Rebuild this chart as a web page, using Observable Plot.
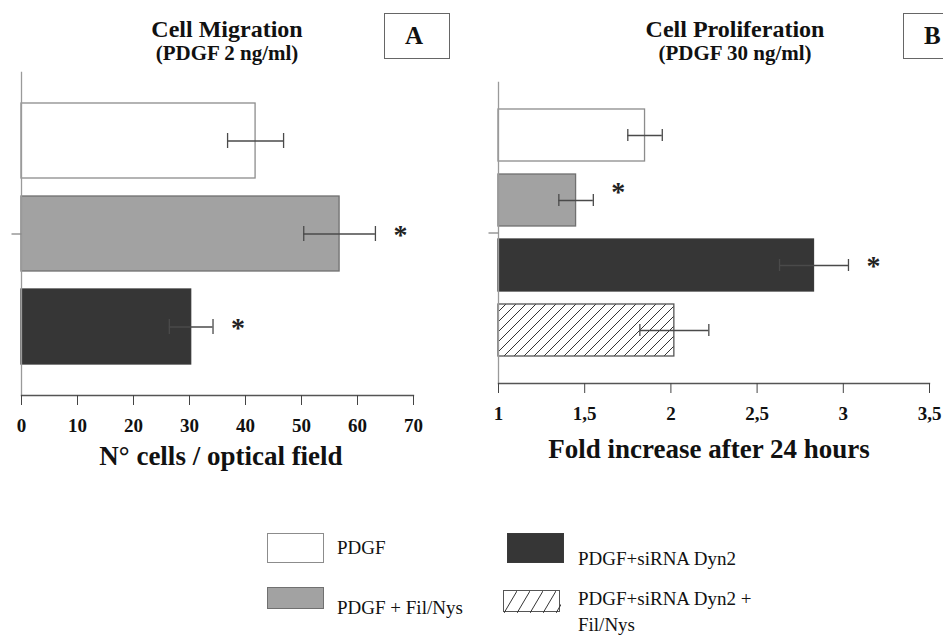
<!DOCTYPE html>
<html><head><meta charset="utf-8">
<script src="https://cdn.jsdelivr.net/npm/d3@7"></script>
<script src="https://cdn.jsdelivr.net/npm/@observablehq/plot@0.6"></script>
<style>
body{margin:0;background:#fff;}
#wrap{position:relative;width:943px;height:640px;overflow:hidden;font-family:"Liberation Serif","Times New Roman",serif;color:#111;background:#fff;}
.abs{position:absolute;white-space:nowrap;line-height:1;}
.b{font-weight:bold;}
.ctr{text-align:center;}
.box{position:absolute;border:1.5px solid #666;box-sizing:border-box;display:flex;align-items:center;justify-content:flex-start;padding-left:20px;font-weight:bold;font-size:25px;background:#fff;}
</style></head><body><div id="wrap"></div>
<script>
// ---------- data ----------
const categoriesA = ["PDGF", "PDGF + Fil/Nys", "PDGF+siRNA Dyn2"];
const migrationMean = [41.8, 56.8, 30.3];
const migrationErr = [5.0, 6.4, 3.9];
const migrationSig = [false, true, true];
const ticksA = [0, 10, 20, 30, 40, 50, 60, 70];
const baselineA = 0;

const categoriesB = ["PDGF", "PDGF + Fil/Nys", "PDGF+siRNA Dyn2", "PDGF+siRNA Dyn2 + Fil/Nys"];
const prolifMean = [1.85, 1.45, 2.83, 2.02];
const prolifErr = [0.10, 0.10, 0.20, 0.20];
const prolifSig = [false, true, true, false];
const ticksB = [1, 1.5, 2, 2.5, 3, 3.5];
const baselineB = 1;

const legendLabels = ["PDGF", "PDGF + Fil/Nys", "PDGF+siRNA Dyn2", "PDGF+siRNA Dyn2 + Fil/Nys"];

// ---------- styles ----------
const FILL = {"PDGF":"#ffffff","PDGF + Fil/Nys":"#a2a2a2","PDGF+siRNA Dyn2":"#363636","PDGF+siRNA Dyn2 + Fil/Nys":"url(#hatch)"};
const STROKE = {"PDGF":"#8c8c8c","PDGF + Fil/Nys":"#707070","PDGF+siRNA Dyn2":"#3a3a3a","PDGF+siRNA Dyn2 + Fil/Nys":"#555555"};
const STAR_DY = {"PDGF + Fil/Nys": {A: 1, B: -8}, "PDGF+siRNA Dyn2": {A: 1, B: 1}};
const SERIF = '"Liberation Serif","Times New Roman",serif';

const wrap = document.getElementById("wrap");
const tickLeft = {draw(ctx){ ctx.moveTo(0,0); ctx.lineTo(-10,0); }};

function panel(cfg) {
  const rows = cfg.cats.map((c, i) => ({cat: c, mean: cfg.mean[i], lo: cfg.mean[i] - cfg.err[i], hi: cfg.mean[i] + cfg.err[i], sig: cfg.sig[i], base: cfg.base}));
  const starMarks = rows.filter(d => d.sig).map(d =>
    Plot.text([d], {y: "cat", x: "hi", text: () => "*", dx: 25, dy: STAR_DY[d.cat][cfg.key], fontSize: 28, fontWeight: "bold", fill: "#222"}));
  const svg = Plot.plot({
    width: cfg.width, height: cfg.height,
    marginLeft: cfg.ml, marginRight: cfg.mr, marginTop: cfg.mt, marginBottom: cfg.mb,
    style: {fontFamily: SERIF, background: "transparent", color: "#111"},
    x: {domain: cfg.domain},
    y: {domain: cfg.cats, paddingInner: cfg.pi, paddingOuter: cfg.po, axis: null},
    color: {type: "identity"},
    marks: [
      Plot.barX(rows, {y: "cat", x1: "base", x2: "mean", fill: d => FILL[d.cat], stroke: d => STROKE[d.cat], strokeWidth: 1.3}),
      Plot.ruleY(rows, {y: "cat", x1: "lo", x2: "hi", stroke: "#4a4a4a", strokeWidth: 1.3}),
      Plot.tickX(rows, {y: "cat", x: "lo", stroke: "#4a4a4a", strokeWidth: 1.3, insetTop: cfg.cap, insetBottom: cfg.cap}),
      Plot.tickX(rows, {y: "cat", x: "hi", stroke: "#4a4a4a", strokeWidth: 1.3, insetTop: cfg.cap, insetBottom: cfg.cap}),
      ...starMarks,
      Plot.frame({anchor: "left", stroke: "#9a9a9a", strokeWidth: 1.3}),
      Plot.frame({anchor: "bottom", stroke: "#555", strokeWidth: 1.3}),
      Plot.dot([0], {frameAnchor: "left", symbol: tickLeft, stroke: "#888", fill: "none", strokeWidth: 1.3}),
      Plot.axisX({ticks: cfg.ticks, tickFormat: d => String(d).replace(".", ","), tickSize: 10, tickPadding: 13, fontSize: 19, fontWeight: "bold", stroke: "#444", label: null})
    ]
  });
  if (cfg.hatch) {
    const ns = "http://www.w3.org/2000/svg";
    const defs = document.createElementNS(ns, "defs");
    const pat = document.createElementNS(ns, "pattern");
    pat.setAttribute("id", "hatch"); pat.setAttribute("patternUnits", "userSpaceOnUse");
    pat.setAttribute("width", "10"); pat.setAttribute("height", "10");
    const bg = document.createElementNS(ns, "rect");
    bg.setAttribute("width", "10"); bg.setAttribute("height", "10"); bg.setAttribute("fill", "#fff");
    const p = document.createElementNS(ns, "path");
    p.setAttribute("d", "M-1,11 L11,-1 M-1,1 L1,-1 M9,11 L11,9");
    p.setAttribute("stroke", "#333"); p.setAttribute("stroke-width", "1");
    pat.appendChild(bg); pat.appendChild(p); defs.appendChild(pat);
    svg.insertBefore(defs, svg.firstChild);
  }
  svg.style.position = "absolute"; svg.style.left = cfg.left + "px"; svg.style.top = "0px";
  svg.style.maxWidth = "none";
  wrap.appendChild(svg);
}

panel({key: "A", cats: categoriesA, mean: migrationMean, err: migrationErr, sig: migrationSig, base: baselineA,
  domain: [0, 70], ticks: ticksA, left: 0, width: 470, height: 470, ml: 21, mr: 57, mt: 72, mb: 75,
  pi: 0.194, po: 0.333, cap: 30, hatch: false});
panel({key: "B", cats: categoriesB, mean: prolifMean, err: prolifErr, sig: prolifSig, base: baselineB,
  domain: [1, 3.5], ticks: ticksB, left: 470, width: 473, height: 470, ml: 28, mr: 14, mt: 82, mb: 87,
  pi: 0.197, po: 0.379, cap: 20, hatch: true});

// ---------- titles ----------
function txt(s, left, top, size, cls, width) {
  const d = document.createElement("div");
  d.className = "abs " + (cls || "");
  d.textContent = s;
  d.style.left = left + "px"; d.style.top = top + "px"; d.style.fontSize = size + "px";
  if (width) d.style.width = width + "px";
  wrap.appendChild(d);
  return d;
}
txt("Cell Migration", 77, 17, 24, "b ctr", 300);
txt("(PDGF 2 ng/ml)", 77, 43, 21, "b ctr", 300);
txt("Cell Proliferation", 585, 17, 24, "b ctr", 300);
txt("(PDGF 30 ng/ml)", 585, 43, 21, "b ctr", 300);
txt("N° cells / optical field", 21, 443, 27, "b ctr", 400);
txt("Fold increase after 24 hours", 509, 436, 27, "b ctr", 400);

function box(letter, left) {
  const d = document.createElement("div");
  d.className = "box"; d.textContent = letter;
  d.style.left = left + "px"; d.style.top = "13px"; d.style.width = "66px"; d.style.height = "46px";
  wrap.appendChild(d);
}
box("A", 384); box("B", 903);

// ---------- legend ----------
const legendPos = [
  {sx: 267, sy: 533, sw: 57, sh: 30, tx: 337, ty: 539},
  {sx: 267, sy: 587, sw: 57, sh: 22, tx: 337, ty: 599},
  {sx: 507, sy: 533, sw: 57, sh: 30, tx: 578, ty: 550},
  {sx: 503, sy: 590, sw: 57, sh: 22, tx: 578, ty: 590}
];
legendLabels.forEach((lab, i) => {
  const p = legendPos[i];
  const sw = document.createElement("div");
  sw.style.cssText = `position:absolute;left:${p.sx}px;top:${p.sy}px;width:${p.sw}px;height:${p.sh}px;box-sizing:border-box;border:1.3px solid ${STROKE[lab]};`;
  if (FILL[lab].startsWith("url")) {
    sw.innerHTML = `<svg width="${p.sw}" height="${p.sh}" style="display:block"><defs><pattern id="hatchL" patternUnits="userSpaceOnUse" width="13" height="22"><path d="M0,22 L13,0" stroke="#333" stroke-width="1"/></pattern></defs><rect width="100%" height="100%" fill="url(#hatchL)"/></svg>`;
    sw.style.background = "#fff";
  } else sw.style.background = FILL[lab];
  wrap.appendChild(sw);
  const t = txt(lab.replace("Dyn2 + Fil", "Dyn2 +\nFil"), p.tx, p.ty, 19, "");
  t.style.whiteSpace = "pre"; t.style.lineHeight = "26px"; t.style.top = (p.ty - 4) + "px";
});
</script></body></html>
